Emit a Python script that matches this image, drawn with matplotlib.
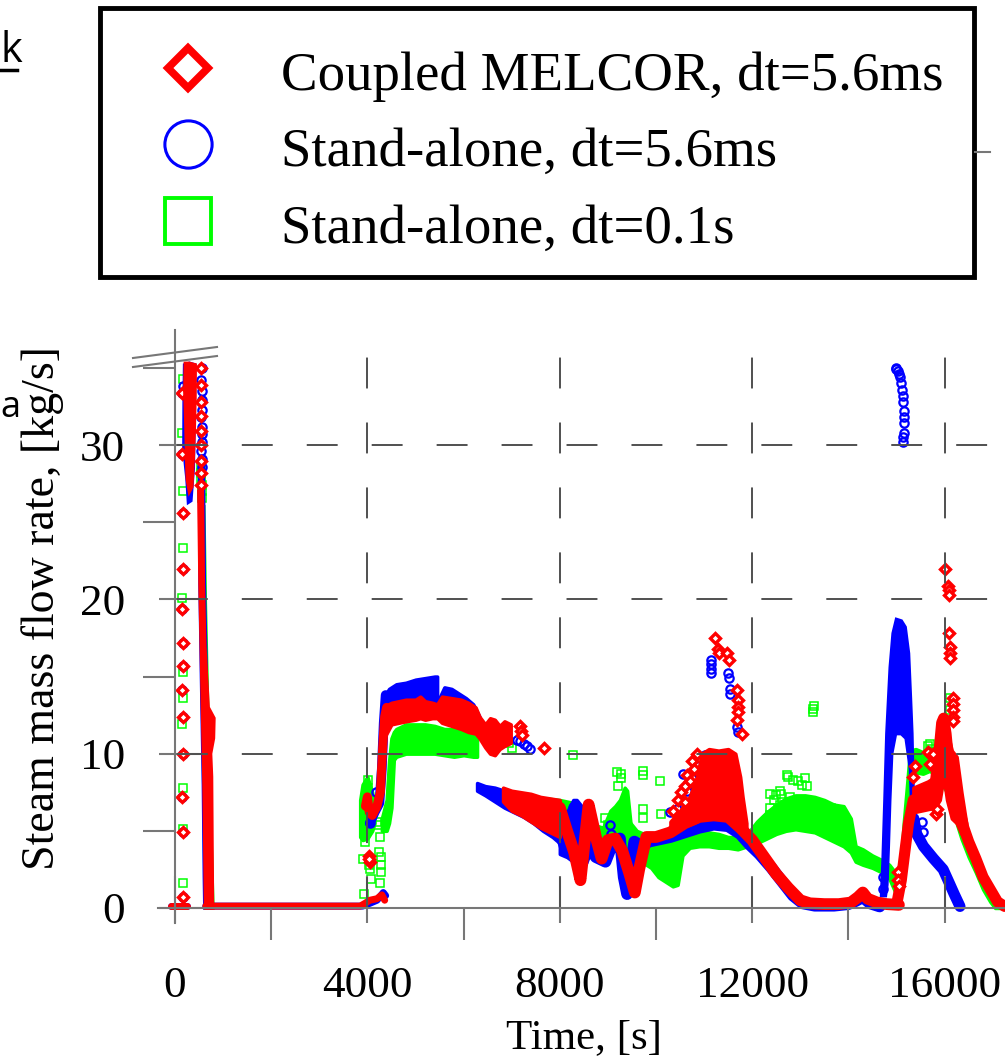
import matplotlib
matplotlib.use("Agg")
import matplotlib.pyplot as plt
from matplotlib.patches import Rectangle

plt.rcParams["font.family"] = ["Liberation Serif", "DejaVu Serif"]

# ---------------- chart text / ticks ----------------
x_major = [0, 4000, 8000, 12000, 16000]
x_minor = [2000, 6000, 10000, 14000]
y_major = [0, 10, 20, 30]
y_minor = [5, 15, 25, 35]
x_label = "Time, [s]"
y_label = "Steam mass flow rate, [kg/s]"
series_names = ["Coupled MELCOR, dt=5.6ms", "Stand-alone, dt=5.6ms", "Stand-alone, dt=0.1s"]

# ================= Coupled MELCOR, dt=5.6ms (red) =================
red_base1_t = [-80, 240]
red_base1_v = [0.12, 0.12]
red_col1_t = [150, 155, 160, 160, 155, 160, 160, 155, 160, 160, 155, 160, 165]
red_col1_v = [33.4, 29.4, 25.6, 22.0, 19.4, 17.2, 15.7, 14.1, 12.4, 10.0, 7.2, 4.9, 0.7]
red_clu_t = [215, 300, 420, 415, 400, 380, 350, 300, 255, 240, 225, 205]
red_clu_v = [35.3, 35.3, 35.2, 33.0, 31.0, 29.2, 27.3, 27.0, 27.8, 29.5, 31.5, 33.5]
red_col2_t = [545, 540, 545, 550, 545, 540, 545, 550, 545]
red_col2_v = [35.0, 33.9, 32.8, 31.9, 30.9, 30.0, 29.0, 28.2, 27.4]
red_spk_t = [495, 570, 590, 620, 690, 810, 800, 740, 760, 770, 780, 635, 620, 600, 570, 545, 520]
red_spk_v = [27.0, 27.0, 21.0, 17.0, 13.0, 12.3, 11.0, 10.0, 8.5, 4.0, 0.0, 0.0, 4.0, 8.5, 13.0, 17.0, 21.0]
red_base2_t = [640, 3850, 3950, 4050, 4200, 4300, 4360]
red_base2_v = [0.12, 0.12, 0.3, 0.5, 0.6, 0.85, 0.5]
red_ramp_t = [3960, 4000, 4040, 4100, 4200, 4270, 4320, 4360, 4400]
red_ramp_v = [6.6, 7.2, 6.2, 6.0, 6.6, 7.5, 10.5, 12.4, 13.0]
red_pts1_t = [4040, 4060, 4030]
red_pts1_v = [3.4, 3.0, 3.2]
red_band1_t = [4380, 4500, 4650, 4800, 5000, 5100, 5200, 5350, 5450, 5550, 5750, 5950, 6100,
               6250, 6330, 6450, 6550, 6650, 6750, 6850, 6980]
red_band1_hi = [13.1, 13.3, 13.4, 13.5, 13.5, 13.7, 13.4, 13.3, 13.2, 13.7, 13.6, 13.5, 13.3,
                13.0, 12.4, 11.9, 12.3, 12.2, 11.8, 12.1, 11.9]
red_band1_lo = [11.2, 11.9, 12.0, 12.1, 12.2, 12.3, 12.2, 12.3, 12.3, 12.0, 11.8, 11.6, 11.4,
                11.3, 11.0, 10.4, 10.0, 9.9, 10.3, 10.5, 10.7]
red_pts2_t = [7180, 7200, 7220, 7680]
red_pts2_v = [11.8, 11.5, 11.2, 10.4]
red_band2_t = [6820, 7000, 7200, 7400, 7600, 7800, 8000]
red_band2_hi = [7.8, 7.6, 7.5, 7.4, 7.2, 7.1, 7.0]
red_band2_lo = [6.9, 6.3, 6.0, 5.6, 5.2, 4.9, 4.6]
red_curve_t = [8000, 8150, 8300, 8430, 8600, 8750, 8870, 9000, 9150, 9300, 9450, 9560, 9650,
               9800, 10000, 10300, 10600, 10900, 11200, 11500, 11750, 12000, 12250, 12500,
               12750, 13000, 13200, 13500, 13800, 14050, 14200, 14300, 14400, 14600, 14800, 15050]
red_curve_v = [6.5, 5.0, 3.6, 1.8, 6.7, 4.6, 3.2, 4.4, 4.5, 3.7, 2.2, 1.0, 2.5,
               4.6, 4.6, 4.9, 5.5, 5.9, 6.0, 5.9, 5.2, 4.4, 3.3, 2.2,
               1.3, 0.5, 0.3, 0.25, 0.25, 0.35, 0.7, 1.0, 0.6, 0.35, 0.25, 0.2]
red_cloud_t = [10300, 10500, 10700, 10850, 10950, 11100, 11300, 11500, 11650, 11750, 11800, 11880]
red_cloud_hi = [5.6, 6.3, 7.2, 8.5, 10.0, 10.3, 10.2, 10.3, 10.0, 8.5, 7.2, 5.5]
red_cloud_lo = [5.0, 5.2, 5.4, 5.6, 5.8, 5.9, 6.0, 5.9, 5.6, 5.3, 5.1, 4.8]
red_pts3_t = [10350, 10450, 10520, 10600, 10650, 10700, 10750, 10800, 10850, 10600, 11230,
              11290, 11300, 11480, 11520, 11690, 11700, 11705, 11700, 11690, 11780]
red_pts3_v = [6.3, 7.0, 7.5, 7.9, 8.6, 8.2, 9.5, 9.0, 10.0, 6.9, 17.5,
              16.8, 16.5, 16.5, 16.1, 14.1, 13.5, 13.0, 12.7, 12.2, 11.3]
red_curve2_t = [15020, 15100, 15180, 15250, 15350, 15500, 15650, 15800, 15880, 15940, 15980,
                16030, 16100, 16200, 16300, 16400, 16500, 16650, 16800, 16950, 17100, 17250]
red_curve2_v = [0.5, 1.8, 3.8, 5.5, 7.0, 7.2, 7.4, 7.9, 10.0, 12.0, 12.3,
                11.3, 9.0, 8.0, 6.5, 5.2, 4.3, 3.2, 2.0, 1.2, 0.4, 0.1]
red_band3_t = [15350, 15500, 15650, 15800, 15900, 15980, 16050, 16150, 16250, 16350, 16450]
red_band3_hi = [7.8, 8.0, 8.2, 8.5, 11.0, 12.5, 11.5, 10.2, 9.8, 7.5, 5.5]
red_band3_lo = [6.2, 6.3, 6.4, 6.5, 7.0, 8.5, 7.0, 5.8, 5.5, 4.8, 4.2]
red_pts4_t = [15040, 15040, 15050, 15350, 15380, 15650, 15700, 15760, 15830, 15840, 16010,
              16080, 16090, 16095, 16100, 16110, 16115, 16120, 16170, 16175, 16180, 16180, 16175]
red_pts4_v = [2.3, 1.8, 1.4, 8.5, 9.2, 10.1, 9.3, 10.0, 6.1, 6.4, 22.0,
              20.9, 20.6, 20.3, 17.8, 16.9, 16.5, 16.2, 13.6, 13.2, 12.8, 12.4, 12.1]

# ================= Stand-alone, dt=5.6ms (blue) =================
blue_base1_t = [-80, 240]
blue_base1_v = [0.12, 0.12]
blue_col1_t = [160, 150, 155, 160, 160, 155, 160, 160, 155, 160, 160, 155, 160, 165]
blue_col1_v = [33.8, 33.4, 29.4, 25.6, 22.0, 19.4, 17.2, 15.7, 14.1, 12.4, 10.0, 7.2, 4.9, 0.7]
blue_clu_t = [200, 300, 410, 400, 380, 330, 280, 250, 210, 185, 190]
blue_clu_v = [35.2, 35.3, 35.2, 32.0, 28.5, 26.4, 26.3, 27.8, 29.0, 29.5, 33.0]
blue_col2_t = [555, 550, 555, 560, 555, 550, 555, 560, 555, 550, 555, 560]
blue_col2_v = [35.0, 34.2, 33.5, 32.9, 32.3, 31.8, 31.2, 30.7, 30.2, 29.6, 29.1, 28.6]
blue_spk1_t = [590, 610, 650, 700, 740, 620, 610, 590, 550, 520, 510]
blue_spk1_v = [28.6, 21.0, 15.0, 8.0, 0.0, 0.0, 2.0, 8.0, 15.0, 21.0, 28.6]
blue_base2_t = [640, 3900, 4050, 4200, 4330, 4380]
blue_base2_v = [0.12, 0.12, 0.3, 0.5, 1.0, 0.8]
blue_ramp_t = [4050, 4150, 4250, 4300, 4340, 4380]
blue_ramp_v = [5.5, 6.2, 6.8, 9.0, 12.0, 13.8]
blue_pts1_t = [4050, 4180]
blue_pts1_v = [5.5, 7.5]
blue_band1_t = [4370, 4450, 4600, 4800, 5000, 5200, 5400, 5450]
blue_band1_hi = [13.8, 14.2, 14.5, 14.6, 14.8, 14.9, 15.0, 15.0]
blue_band1_lo = [12.0, 12.5, 12.5, 12.5, 12.5, 12.5, 12.5, 12.5]
blue_band2_t = [5480, 5600, 5750, 5900, 6050, 6200, 6330]
blue_band2_hi = [13.5, 14.3, 14.2, 13.9, 13.6, 13.2, 12.4]
blue_band2_lo = [12.5, 12.5, 12.3, 12.0, 11.8, 11.6, 11.5]
blue_pts2_t = [7110, 7170, 7250, 7320, 7380]
blue_pts2_v = [10.9, 10.8, 10.6, 10.5, 10.3]
blue_band3_t = [6280, 6450, 6650, 6850, 7050, 7250, 7450, 7650, 7850, 8000]
blue_band3_hi = [8.1, 7.9, 7.8, 7.6, 7.5, 7.3, 7.1, 6.9, 6.7, 6.5]
blue_band3_lo = [7.6, 7.3, 6.9, 6.5, 6.2, 5.9, 5.5, 5.0, 4.6, 4.2]
blue_band4_t = [8000, 8150, 8280, 8350, 8480]
blue_band4_hi = [6.5, 6.2, 7.0, 7.0, 6.5]
blue_band4_lo = [3.5, 3.3, 3.0, 2.8, 2.7]
blue_curve_t = [8000, 8100, 8200, 8300, 8400, 8480, 8600, 8750, 8950, 9100, 9250, 9330, 9400,
                9460, 9550, 9700, 9850, 10000, 10300, 10600, 10900, 11200, 11500, 11750, 11950,
                12150, 12400, 12650, 12850, 13050, 13300, 13700, 14000, 14150, 14300, 14450, 14650]
blue_curve_v = [5.0, 4.0, 3.8, 6.5, 5.0, 3.0, 4.0, 3.3, 3.0, 4.2, 4.5, 2.0, 0.9,
                2.5, 4.3, 4.0, 4.3, 4.4, 4.6, 4.9, 5.2, 5.4, 5.3, 4.8, 4.1,
                3.5, 2.6, 1.6, 0.8, 0.3, 0.15, 0.15, 0.25, 0.45, 0.7, 0.3, 0.1]
blue_pts3_t = [9050, 9060, 10290, 10430, 10500, 10570, 10650, 10780, 10850, 10880, 10900, 11000,
               11020, 11100, 11140, 11140, 11145, 11150, 11500, 11520, 11530, 11540, 11690, 11700]
blue_pts3_v = [5.4, 4.8, 6.2, 6.4, 7.0, 8.7, 7.6, 8.0, 7.8, 9.2, 8.7, 9.1,
               9.9, 9.7, 16.1, 15.8, 15.5, 15.2, 15.2, 14.9, 14.2, 13.9, 11.7, 11.4]
blue_spk2_t = [14690, 14720, 14760, 14800, 14870, 14930, 15000, 15100, 15180, 15250, 15290,
               15320, 15350, 15380, 15330, 15290, 15200, 15100, 14980, 14900, 14860, 14830,
               14800, 14770]
blue_spk2_v = [0.8, 3.0, 7.0, 11.3, 15.6, 17.8, 18.7, 18.6, 18.2, 16.5, 13.6,
               11.3, 7.0, 5.5, 5.5, 9.0, 11.0, 11.3, 11.3, 10.0, 7.0, 4.0,
               1.5, 0.8]
blue_desc_t = [15360, 15420, 15560, 15770, 15970, 16100, 16200, 16320]
blue_desc_v = [5.8, 4.8, 4.0, 3.2, 2.5, 1.6, 0.9, 0.1]
blue_pts4_t = [14720, 14720, 15530, 15560]
blue_pts4_v = [2.0, 1.2, 5.6, 4.9]
blue_high_t = [14980, 15000, 15030, 15050, 15080, 15100, 15120, 15130, 15140, 15150, 15150,
               15160, 15150, 15140, 15130]
blue_high_v = [35.0, 34.9, 34.8, 34.6, 34.4, 34.0, 33.6, 33.2, 32.8, 32.2, 31.8,
               31.4, 30.8, 30.5, 30.2]

# ================= Stand-alone, dt=0.1s (green) =================
green_col1_t = [160, 155, 160, 160, 155, 160, 160, 155, 160, 160, 165]
green_col1_v = [34.3, 30.8, 27.0, 23.3, 20.1, 15.3, 13.6, 11.9, 7.8, 5.1, 1.6]
green_col2_t = [540, 545, 550, 555, 560, 565]
green_col2_v = [28.6, 28.2, 27.8, 27.4, 27.0, 26.6]
green_spk_t = [520, 600, 630, 700, 790, 630, 590, 540]
green_spk_v = [26.0, 26.0, 20.0, 10.0, 0.0, 0.0, 10.0, 20.0]
green_band0_t = [3850, 3900, 4000, 4100, 4150]
green_band0_hi = [7.0, 8.0, 8.5, 7.5, 6.5]
green_band0_lo = [4.6, 4.4, 4.5, 5.0, 5.5]
green_pts1_t = [3910, 3920, 4040, 4060, 4080, 4250, 4280, 4280, 4280, 4270, 4260, 4020, 4020,
                3960, 4200, 4230]
green_pts1_v = [3.2, 0.9, 2.8, 2.5, 1.9, 3.6, 3.3, 2.8, 2.3, 1.6, 4.6, 8.3, 7.8,
                4.3, 5.6, 5.4]
green_band1_t = [4300, 4400, 4450, 4500, 4550, 4600, 4800, 5000, 5200, 5400, 5600, 5800, 6000,
                 6200, 6280]
green_band1_hi = [5.8, 7.0, 9.5, 11.0, 11.4, 11.6, 11.9, 11.9, 11.9, 11.8, 11.6, 11.6, 11.5,
                  11.3, 11.0]
green_band1_lo = [5.0, 5.0, 5.5, 6.5, 9.6, 9.8, 10.0, 10.0, 10.0, 10.0, 9.9, 9.8, 9.9,
                  9.8, 9.8]
green_pts2_t = [6950, 7000, 8270]
green_pts2_v = [10.7, 10.4, 9.9]
green_band2_t = [7300, 7700, 8000, 8300, 8600, 8900, 9050, 9150, 9250, 9350, 9400, 9470]
green_band2_hi = [7.2, 7.1, 7.0, 6.8, 5.5, 5.2, 6.3, 6.6, 7.0, 7.8, 7.6, 5.5]
green_band2_lo = [6.0, 5.3, 4.6, 4.4, 4.3, 4.3, 4.4, 4.0, 3.5, 2.8, 2.2, 2.5]
green_band3_t = [9470, 9600, 9750, 9900, 10050, 10200, 10350, 10450, 10550, 10700, 10900, 11100,
                 11300, 11500, 11700, 11900, 12100, 12300, 12500, 12700, 12900, 13100, 13300,
                 13500, 13700, 13900, 14050, 14150, 14300, 14500, 14700, 14850, 14950, 15050]
green_band3_hi = [5.5, 5.0, 4.8, 4.6, 4.6, 4.5, 4.3, 4.6, 5.0, 5.3, 5.1, 4.9,
                  4.8, 4.6, 4.6, 4.8, 5.6, 6.2, 6.7, 7.1, 7.3, 7.3, 7.2,
                  7.0, 6.7, 6.6, 5.8, 4.0, 3.8, 3.4, 3.1, 2.8, 2.4, 1.4]
green_band3_lo = [2.5, 2.8, 2.9, 2.6, 2.0, 1.7, 1.4, 1.5, 3.4, 3.9, 4.0, 4.0,
                  3.9, 3.9, 3.8, 4.0, 4.2, 4.5, 4.8, 5.0, 5.1, 5.0, 4.9,
                  4.6, 4.3, 4.0, 3.6, 3.0, 2.8, 2.6, 2.3, 1.9, 1.2, 0.4]
green_pts3_t = [9180, 9280, 9270, 9200, 9730, 9730, 9730, 9730, 10080, 10100, 8950, 9000]
green_pts3_v = [8.8, 8.7, 8.4, 7.9, 8.9, 8.6, 6.4, 5.8, 8.2, 6.1, 5.8, 5.4]
green_pts4_t = [12370, 12370, 12370, 12580, 12580, 12720, 12750, 12850, 12950, 13030, 13100,
                13150, 12450, 12500, 12600, 12780, 13640, 13750, 13800, 13260, 13270, 13275]
green_pts4_v = [7.4, 6.5, 6.0, 7.6, 6.7, 8.6, 8.5, 8.3, 8.2, 8.0, 8.4,
                7.9, 7.0, 7.3, 7.4, 7.2, 6.5, 6.3, 5.3, 12.7, 12.9, 13.1]
green_band4_t = [15000, 15080, 15150, 15220, 15280, 15400, 15550, 15700, 15800]
green_band4_hi = [0.8, 2.5, 5.5, 8.0, 10.2, 10.3, 10.1, 10.4, 10.0]
green_band4_lo = [0.3, 0.8, 2.5, 5.0, 8.6, 8.8, 8.7, 8.9, 8.5]
green_band5_t = [15800, 15950, 16150, 16250, 16350, 16500, 16650, 16800, 16950, 17050, 17150]
green_band5_hi = [10.0, 9.8, 9.0, 7.5, 6.0, 4.8, 3.5, 2.3, 1.2, 0.6, 0.2]
green_band5_lo = [8.5, 8.0, 7.0, 5.5, 4.5, 3.3, 2.3, 1.2, 0.4, 0.0, 0.0]
green_pts5_t = [15700, 15720, 15650, 16110, 16110]
green_pts5_v = [10.6, 10.3, 10.5, 13.6, 12.8]

# ---------------- styles ----------------
RED, BLUE, GREEN = "#ff0000", "#0000ff", "#00ff00"
AXIS_GRAY = "#777777"
GRID_GRAY = "#505050"
W, H = 1005, 1058
XMIN, XMAX = -353, 17256
YMIN, YMAX = -1.0, 37.46

fig = plt.figure(figsize=(W / 100, H / 100), dpi=100)
px_l, px_r, py_t, py_b = 158, 1005, 330, 923.4
ax = fig.add_axes([px_l / W, (H - py_b) / H, (px_r - px_l) / W, (py_b - py_t) / H])
ax.set_xlim(XMIN, XMAX)
ax.set_ylim(YMIN, YMAX)
ax.patch.set_alpha(0)


def band(t, lo, hi, c, z):
    ax.fill_between(t, lo, hi, color=c, lw=2.5, edgecolor=c, zorder=z)


def poly(t, v, c, z):
    ax.fill(t, v, color=c, lw=2.5, edgecolor=c, zorder=z)


def curve(t, v, c, z, lw=6):
    ax.plot(t, v, color=c, lw=lw, solid_joinstyle="round", solid_capstyle="round", zorder=z)


def pts(t, v, c, z, m):
    if m == "D":
        ax.plot(t, v, ls="none", marker="D", ms=4.6, mfc="white", mec=c, mew=2.4, zorder=z)
    elif m == "o":
        ax.plot(t, v, ls="none", marker="o", ms=6.0, mfc="none", mec=c, mew=1.6, zorder=z)
    else:
        ax.plot(t, v, ls="none", marker="s", ms=6.0, mfc="none", mec=c, mew=1.1, zorder=z)


# green (bottom)
zg = 1.0
pts(green_col1_t, green_col1_v, GREEN, zg, "s")
pts(green_col2_t, green_col2_v, GREEN, zg, "s")
poly(green_spk_t, green_spk_v, GREEN, zg)
band(green_band0_t, green_band0_lo, green_band0_hi, GREEN, zg)
pts(green_pts1_t, green_pts1_v, GREEN, zg, "s")
band(green_band1_t, green_band1_lo, green_band1_hi, GREEN, zg)
pts(green_pts2_t, green_pts2_v, GREEN, zg, "s")
band(green_band2_t, green_band2_lo, green_band2_hi, GREEN, zg)
band(green_band3_t, green_band3_lo, green_band3_hi, GREEN, zg)
pts(green_pts3_t, green_pts3_v, GREEN, zg, "s")
pts(green_pts4_t, green_pts4_v, GREEN, zg, "s")
band(green_band4_t, green_band4_lo, green_band4_hi, GREEN, zg)
band(green_band5_t, green_band5_lo, green_band5_hi, GREEN, zg)
pts(green_pts5_t, green_pts5_v, GREEN, zg, "s")

# blue
zb = 1.1
curve(blue_base1_t, blue_base1_v, BLUE, zb, lw=5)
pts(blue_col1_t, blue_col1_v, BLUE, zb, "o")
poly(blue_clu_t, blue_clu_v, BLUE, zb)
pts(blue_col2_t, blue_col2_v, BLUE, zb, "o")
poly(blue_spk1_t, blue_spk1_v, BLUE, zb)
curve(blue_base2_t, blue_base2_v, BLUE, zb, lw=5)
curve(blue_ramp_t, blue_ramp_v, BLUE, zb, lw=7)
pts(blue_pts1_t, blue_pts1_v, BLUE, zb, "o")
band(blue_band1_t, blue_band1_lo, blue_band1_hi, BLUE, zb)
band(blue_band2_t, blue_band2_lo, blue_band2_hi, BLUE, zb)
pts(blue_pts2_t, blue_pts2_v, BLUE, zb, "o")
band(blue_band3_t, blue_band3_lo, blue_band3_hi, BLUE, zb)
band(blue_band4_t, blue_band4_lo, blue_band4_hi, BLUE, zb)
curve(blue_curve_t, blue_curve_v, BLUE, zb, lw=8.5)
pts(blue_pts3_t, blue_pts3_v, BLUE, zb, "o")
poly(blue_spk2_t, blue_spk2_v, BLUE, zb)
curve(blue_desc_t, blue_desc_v, BLUE, zb, lw=8)
pts(blue_pts4_t, blue_pts4_v, BLUE, zb, "o")
pts(blue_high_t, blue_high_v, BLUE, zb, "o")

# red (top)
zr = 1.2
curve(red_base1_t, red_base1_v, RED, zr, lw=5)
pts(red_col1_t, red_col1_v, RED, zr, "D")
poly(red_clu_t, red_clu_v, RED, zr)
pts(red_col2_t, red_col2_v, RED, zr, "D")
poly(red_spk_t, red_spk_v, RED, zr)
curve(red_base2_t, red_base2_v, RED, zr, lw=5)
curve(red_ramp_t, red_ramp_v, RED, zr, lw=6.5)
pts(red_pts1_t, red_pts1_v, RED, zr, "D")
band(red_band1_t, red_band1_lo, red_band1_hi, RED, zr)
pts(red_pts2_t, red_pts2_v, RED, zr, "D")
band(red_band2_t, red_band2_lo, red_band2_hi, RED, zr)
curve(red_curve_t, red_curve_v, RED, zr, lw=8.5)
band(red_cloud_t, red_cloud_lo, red_cloud_hi, RED, zr)
pts(red_pts3_t, red_pts3_v, RED, zr, "D")
curve(red_curve2_t, red_curve2_v, RED, zr, lw=8)
band(red_band3_t, red_band3_lo, red_band3_hi, RED, zr)
pts(red_pts4_t, red_pts4_v, RED, zr, "D")

# ---------------- axes styling ----------------
for s in ["top", "right"]:
    ax.spines[s].set_visible(False)
for s in ["left", "bottom"]:
    ax.spines[s].set_position(("data", 0))
    ax.spines[s].set_color(AXIS_GRAY)
    ax.spines[s].set_linewidth(1.5)

ax.set_xticks(x_major)
ax.set_xticks(x_minor, minor=True)
ax.set_yticks(y_major)
ax.set_yticks(y_minor, minor=True)
ax.tick_params(which="major", direction="in", length=23, width=1.5, color=AXIS_GRAY,
               labelsize=32.5)
ax.tick_params(axis="x", which="major", pad=42)
ax.tick_params(axis="y", which="major", pad=36)
ax.tick_params(which="minor", direction="out", length=23, width=1.5, color=AXIS_GRAY)

# outward part of the major ticks
secx = ax.secondary_xaxis((0 - YMIN) / (YMAX - YMIN))
secx.set_xticks(x_major)
secx.tick_params(direction="out", length=11, width=1.5, color=AXIS_GRAY, labelbottom=False,
                 labeltop=False)
for sp in secx.spines.values():
    sp.set_visible(False)
secy = ax.secondary_yaxis((0 - XMIN) / (XMAX - XMIN))
secy.set_yticks(y_major)
secy.tick_params(direction="out", length=11.5, width=1.5, color=AXIS_GRAY, labelleft=False,
                 labelright=False)
for sp in secy.spines.values():
    sp.set_visible(False)

# dashed grid (drawn above the data as in the original)
lwg = 1.4
for y in y_major[1:]:
    ax.axhline(y, color=GRID_GRAY, lw=lwg, ls=(23.7, (15.9, 17.5)), zorder=2.5)
for x in x_major[1:]:
    ax.axvline(x, color=GRID_GRAY, lw=lwg, ls=(25.7, (15.9, 17.5)), zorder=2.5)

# axis labels
fig.text(584 / W, 1 - 1048 / H, x_label, fontsize=31, ha="center", va="baseline")
fig.text(54 / W, 1 - 608 / H, y_label, fontsize=33, rotation=90, rotation_mode="anchor",
         ha="center", va="baseline")

# ---------------- overlay (legend, axis break, page fragments) ----------------
ov = fig.add_axes([0, 0, 1, 1], zorder=10)
ov.set_xlim(0, W)
ov.set_ylim(H, 0)
ov.axis("off")
ov.patch.set_alpha(0)

# axis break marks
ov.plot([133, 217], [358, 347], color=AXIS_GRAY, lw=1.5)
ov.plot([133, 217], [367, 356], color=AXIS_GRAY, lw=1.5)
# stub of a hidden tick right of legend
ov.plot([975, 990], [152, 152], color=AXIS_GRAY, lw=1.5)

ov.add_patch(Rectangle((99.5, 7.5), 874, 269, facecolor="white", edgecolor="black", lw=3.5))
leg_rows = [68, 144, 221]
ov.plot([188], [leg_rows[0]], marker="D", ms=20, mfc="white", mec=RED, mew=5.5, ls="none")
ov.plot([188], [leg_rows[1]], marker="o", ms=34, mfc="none", mec=BLUE, mew=2.2, ls="none")
ov.plot([188], [leg_rows[2]], marker="s", ms=33, mfc="none", mec=GREEN, mew=2.8, ls="none")
for name, yb in zip(series_names, [90, 166, 243]):
    ov.text(281, yb, name, fontsize=39.5, ha="left", va="baseline")

# fragments of surrounding page text
ov.text(1, 62, "k", fontsize=30, family=["Open Sans", "DejaVu Sans"], ha="left", va="baseline")
ov.plot([0, 17], [70, 70], color="black", lw=2.5)
ov.text(0, 417, "a", fontsize=26, family=["Open Sans", "DejaVu Sans"], ha="left",
        va="baseline")

fig.savefig("out.png", dpi=100)
